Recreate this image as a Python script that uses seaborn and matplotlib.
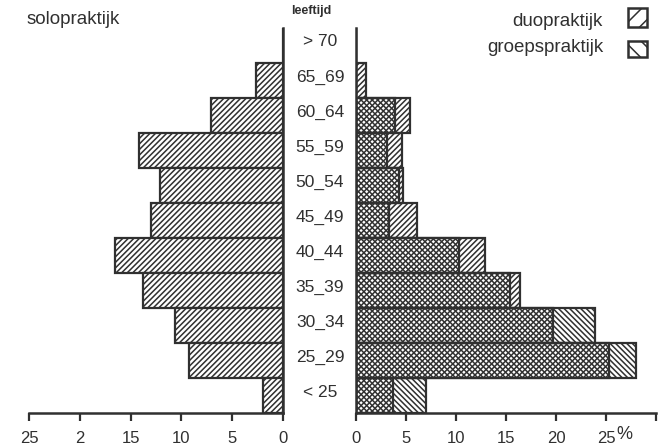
import matplotlib
matplotlib.use("Agg")
import matplotlib.pyplot as plt
import seaborn as sns
from matplotlib.patches import Rectangle

# ---- data (percentages) ----
ages = ["> 70", "65_69", "60_64", "55_59", "50_54", "45_49",
        "40_44", "35_39", "30_34", "25_29", "< 25"]
solo = [0, 2.7, 7.1, 14.2, 12.1, 13.0, 16.5, 13.8, 10.6, 9.3, 2.0]
duo = [0, 1.0, 5.4, 4.6, 4.7, 6.1, 12.9, 16.4, 19.7, 25.3, 3.7]
groep = [0, 0, 3.9, 3.1, 4.3, 3.3, 10.3, 15.4, 23.9, 28.0, 7.0]

left_ticks = [25, 20, 15, 10, 5, 0]
left_ticklabels = ["25", "2", "15", "10", "5", "0"]
right_ticks = [0, 5, 10, 15, 20, 25, 30]
right_ticklabels = ["0", "5", "10", "15", "20", "25", ""]

ink = "#303030"

sns.set_style("white")
plt.rcParams["font.family"] = ["Liberation Sans", "DejaVu Sans"]
plt.rcParams["hatch.color"] = ink
plt.rcParams["hatch.linewidth"] = 1.1

W, H = 667, 448
fig = plt.figure(figsize=(W / 100, H / 100), dpi=100)
fig.patch.set_facecolor("white")

def fx(px):
    return px / W

def fy(py):
    return (H - py) / H

y_top, y_bot = 27.7, 412.7
axL = fig.add_axes([fx(29), fy(y_bot), fx(283) - fx(29), (y_bot - y_top) / H])
axR = fig.add_axes([fx(356), fy(y_bot), fx(656) - fx(356), (y_bot - y_top) / H])

# left: solopraktijk
sns.barplot(x=solo, y=ages, orient="h", color="white", width=1.0,
            edgecolor=ink, linewidth=1.6, ax=axL, saturation=1)
for p in axL.patches:
    p.set_facecolor("white")
    p.set_hatch("//////")

# right: duopraktijk (///) and groepspraktijk (\\\) overlaid -> crosshatch
sns.barplot(x=duo, y=ages, orient="h", color="white", width=1.0,
            edgecolor=ink, linewidth=1.6, ax=axR, saturation=1)
n_duo = len(axR.patches)
for p in axR.patches:
    p.set_facecolor("white")
    p.set_hatch("//////")
sns.barplot(x=groep, y=ages, orient="h", color="white", width=1.0,
            edgecolor=ink, linewidth=1.6, ax=axR, saturation=1)
for p in axR.patches[n_duo:]:
    p.set_facecolor("none")
    p.set_hatch("\\\\\\\\\\\\")

for ax in (axL, axR):
    ax.set_ylim(10.5, -0.5)
    ax.set_yticks([])
    ax.set_ylabel("")
    ax.set_xlabel("")
    for s in ax.spines.values():
        s.set_color(ink)
        s.set_linewidth(1.8)
    ax.tick_params(axis="x", bottom=True, direction="out", length=6, width=1.6,
                   color=ink, labelcolor=ink, labelsize=12, pad=7)
    ax.set_facecolor("none")

axL.set_xlim(25, 0)
axL.set_xticks(left_ticks)
axL.set_xticklabels(left_ticklabels)
axL.spines["left"].set_visible(False)
axL.spines["top"].set_visible(False)

axR.set_xlim(0, 30)
axR.set_xticks(right_ticks)
axR.set_xticklabels(right_ticklabels)
axR.spines["right"].set_visible(False)
axR.spines["top"].set_visible(False)

# percent sign after "25"
fig.text(fx(624), fy(434), "%", ha="center", va="center", fontsize=13, color=ink)

# age labels in the middle
for i, lab in enumerate(ages):
    yc = 42 + 35 * i
    fig.text(fx(320), fy(yc), lab, ha="center", va="center", fontsize=12.5, color=ink)

fig.text(fx(311), fy(11), "leeftijd", ha="center", va="center", fontsize=9,
         color=ink, fontweight="bold")
fig.text(fx(27), fy(20), "solopraktijk", ha="left", va="center", fontsize=13.5, color=ink)

# legend
fig.text(fx(603), fy(21), "duopraktijk", ha="right", va="center", fontsize=13.5, color=ink)
fig.text(fx(603), fy(47), "groepspraktijk", ha="right", va="center", fontsize=13.5, color=ink)
for (y0, y1), hatch in (((8, 27), "//"), ((41, 57), "\\\\")):
    r = Rectangle((fx(628), fy(y1)), fx(647) - fx(628), (y1 - y0) / H,
                  transform=fig.transFigure, facecolor="white", edgecolor=ink,
                  linewidth=1.8, hatch=hatch)
    fig.add_artist(r)

fig.savefig("out.png", dpi=100, facecolor="white")
